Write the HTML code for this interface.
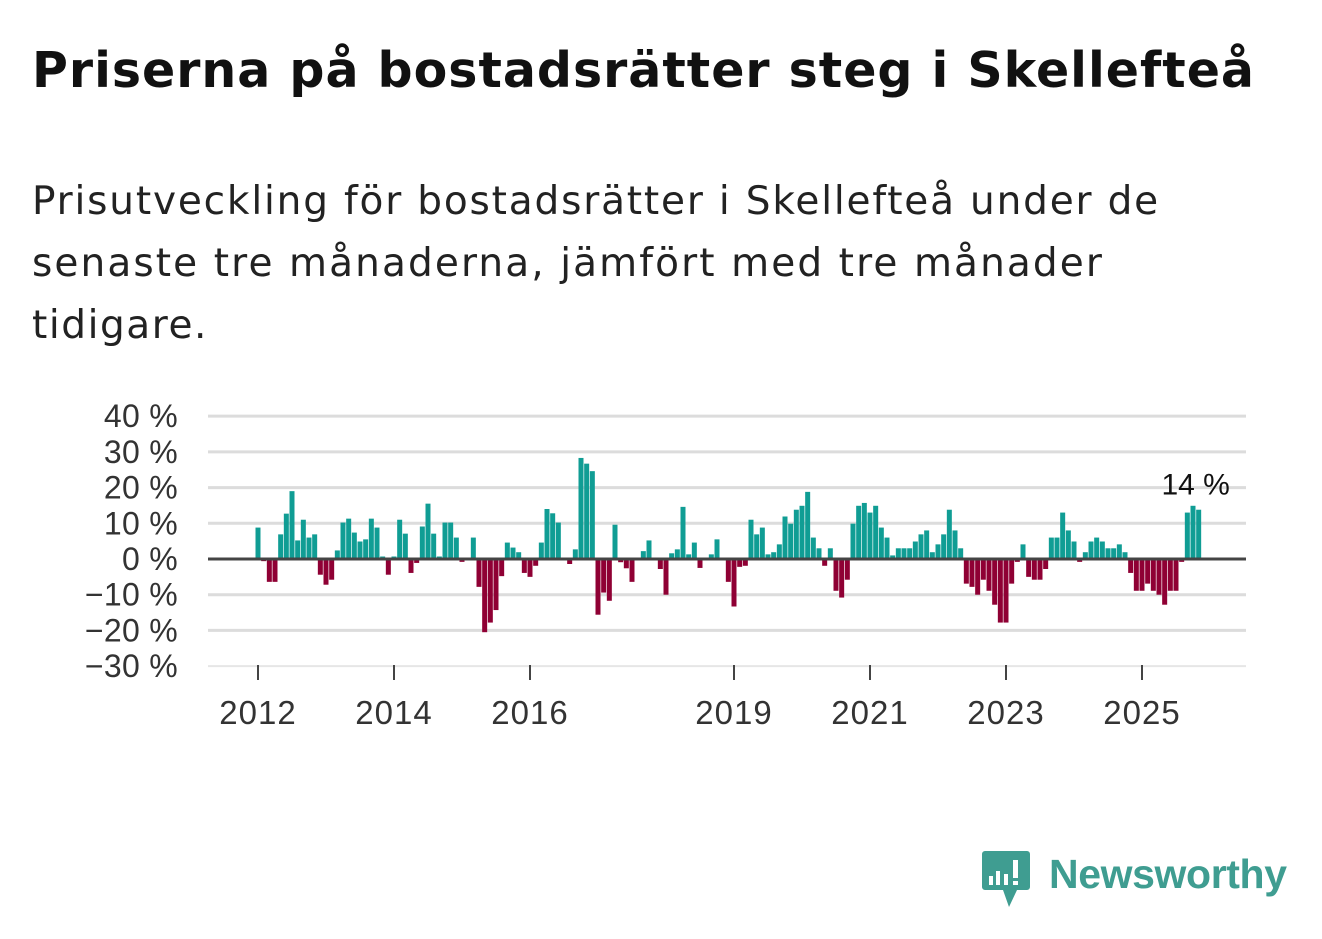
<!DOCTYPE html>
<html><head><meta charset="utf-8"><style>
body{margin:0;background:#fff;width:1322px;height:939px;overflow:hidden;font-family:"Liberation Sans",sans-serif;}
#t{position:absolute;left:32px;top:41px;font-family:"DejaVu Sans",sans-serif;font-size:49px;font-weight:bold;color:#111;margin:0;white-space:nowrap;line-height:60px}
#s{position:absolute;left:32px;top:171px;font-family:"DejaVu Sans",sans-serif;font-size:39px;line-height:62px;color:#222;margin:0;white-space:nowrap}
.fit{display:inline-block;white-space:nowrap}
svg{position:absolute;left:0;top:0}
</style></head><body>
<h1 id="t"><span class="fit" data-w="1223">Priserna på bostadsrätter steg i Skellefteå</span></h1>
<p id="s"><span class="fit" data-w="1128">Prisutveckling för bostadsrätter i Skellefteå under de</span><br><span class="fit" data-w="1072">senaste tre månaderna, jämfört med tre månader</span><br><span class="fit" data-w="176">tidigare.</span></p>
<svg id="c" width="1322" height="939"></svg>
<script>
document.querySelectorAll('.fit').forEach(s=>{const w=s.getBoundingClientRect().width;const n=s.textContent.length;s.style.letterSpacing=((+s.dataset.w-w)/n)+'px';});
const values=[8.8,-0.6,-6.4,-6.4,6.9,12.7,19,5.2,11,6,6.9,-4.4,-7.2,-5.8,2.4,10.2,11.3,7.4,4.9,5.5,11.3,8.8,0.7,-4.4,0.7,11,7.1,-3.9,-1.1,9.1,15.5,7.1,0.7,10.2,10.2,6,-0.8,0,6,-7.8,-20.5,-17.8,-14.3,-4.8,4.6,3.2,1.9,-3.9,-5,-1.9,4.6,14,12.8,10.2,0,-1.4,2.7,28.3,26.7,24.6,-15.6,-9.4,-11.7,9.6,-0.9,-2.6,-6.4,0,2.2,5.2,0,-2.8,-10,1.6,2.7,14.6,1.3,4.6,-2.5,0,1.3,5.5,0,-6.4,-13.3,-2.2,-1.9,11,6.9,8.8,1.3,1.9,4.1,11.9,9.9,13.8,14.9,18.8,6,3,-1.9,3,-8.9,-10.8,-5.8,9.9,14.9,15.7,13,14.9,8.8,6,1,3,3,3,4.9,6.9,8,1.9,4.1,6.9,13.8,8,3,-6.9,-7.8,-10,-5.8,-8.9,-12.8,-17.8,-17.8,-6.9,-0.8,4.1,-5,-5.8,-5.8,-2.8,6,6,13,8,4.9,-0.8,1.9,4.9,6,4.9,3,3,4.1,1.9,-3.9,-8.9,-8.9,-6.9,-8.9,-10,-12.8,-8.9,-8.9,-0.8,13,14.9,13.8];
const yTicks=[40,30,20,10,0,-10,-20,-30];
const xTickYears=[2012,2014,2016,2019,2021,2023,2025];
const startYear=2012;
const lastLabel="14 %";
const svg=document.getElementById('c');const NS='http://www.w3.org/2000/svg';
function y(v){return 559-v*3.571;}
function x(i){return 258+i*68/12;}
function xYear(yr){return 258+(yr-startYear)*68;}
function mk(t,a,p){const e=document.createElementNS(NS,t);for(const k in a)e.setAttribute(k,a[k]);(p||svg).appendChild(e);return e;}
yTicks.forEach(v=>{
 if(v!==0){const l=mk('line',{x1:208,x2:1246,y1:y(v),y2:y(v),stroke:v===-30?'#e6e6e6':'#dcdcdc','stroke-width':v===-30?2:3});
 
 }
 const t=mk('text',{x:178,y:y(v)+11,'text-anchor':'end','font-size':32,'letter-spacing':0.3,fill:'#333','font-family':'Liberation Sans, sans-serif'});
 t.textContent=(v<0?'\u2212'+(-v):v)+' %';
 
 
});
values.forEach((v,i)=>{
 const r=mk('rect',{x:x(i)-2.5,width:5,y:v>=0?y(v):y(0),height:Math.abs(y(v)-y(0)),fill:v>=0?'#109d94':'#8f0034'});
 
 
});
const z=mk('line',{x1:208,x2:1246,y1:y(0),y2:y(0),stroke:'#444','stroke-width':3});


xTickYears.forEach(yr=>{
 const tk=mk('line',{x1:xYear(yr),x2:xYear(yr),y1:665,y2:680,stroke:'#444','stroke-width':2});
 
 
 const t=mk('text',{x:xYear(yr),y:724,'text-anchor':'middle','font-size':33,'letter-spacing':1,fill:'#333','font-family':'Liberation Sans, sans-serif'});
 t.textContent=yr;
 
 
});
const li=values.length-1;
const lb=mk('text',{x:x(li)-3,y:y(values[li])-15,'text-anchor':'middle','font-size':30,fill:'#111','font-family':'Liberation Sans, sans-serif'});
lb.textContent=lastLabel;


</script>
<svg width="1322" height="939" style="pointer-events:none">
<path d="M985 851h42a3 3 0 0 1 3 3v33a3 3 0 0 1-3 3h-10l-8 17-6-17h-18a3 3 0 0 1-3-3v-33a3 3 0 0 1 3-3z" fill="#3f9d91"/>
<rect x="989" y="876" width="4" height="9" fill="#fff"/><rect x="996" y="871" width="4" height="14" fill="#fff"/><rect x="1004" y="874" width="4" height="11" fill="#fff"/><rect x="1013" y="860" width="5" height="18" fill="#fff"/><rect x="1013" y="881" width="5" height="4" fill="#fff"/>
<text x="1049" y="888" font-size="41" fill="#3f9d91" font-family="Liberation Sans, sans-serif" font-weight="bold" textLength="238">Newsworthy</text>
</svg>
</body></html>
